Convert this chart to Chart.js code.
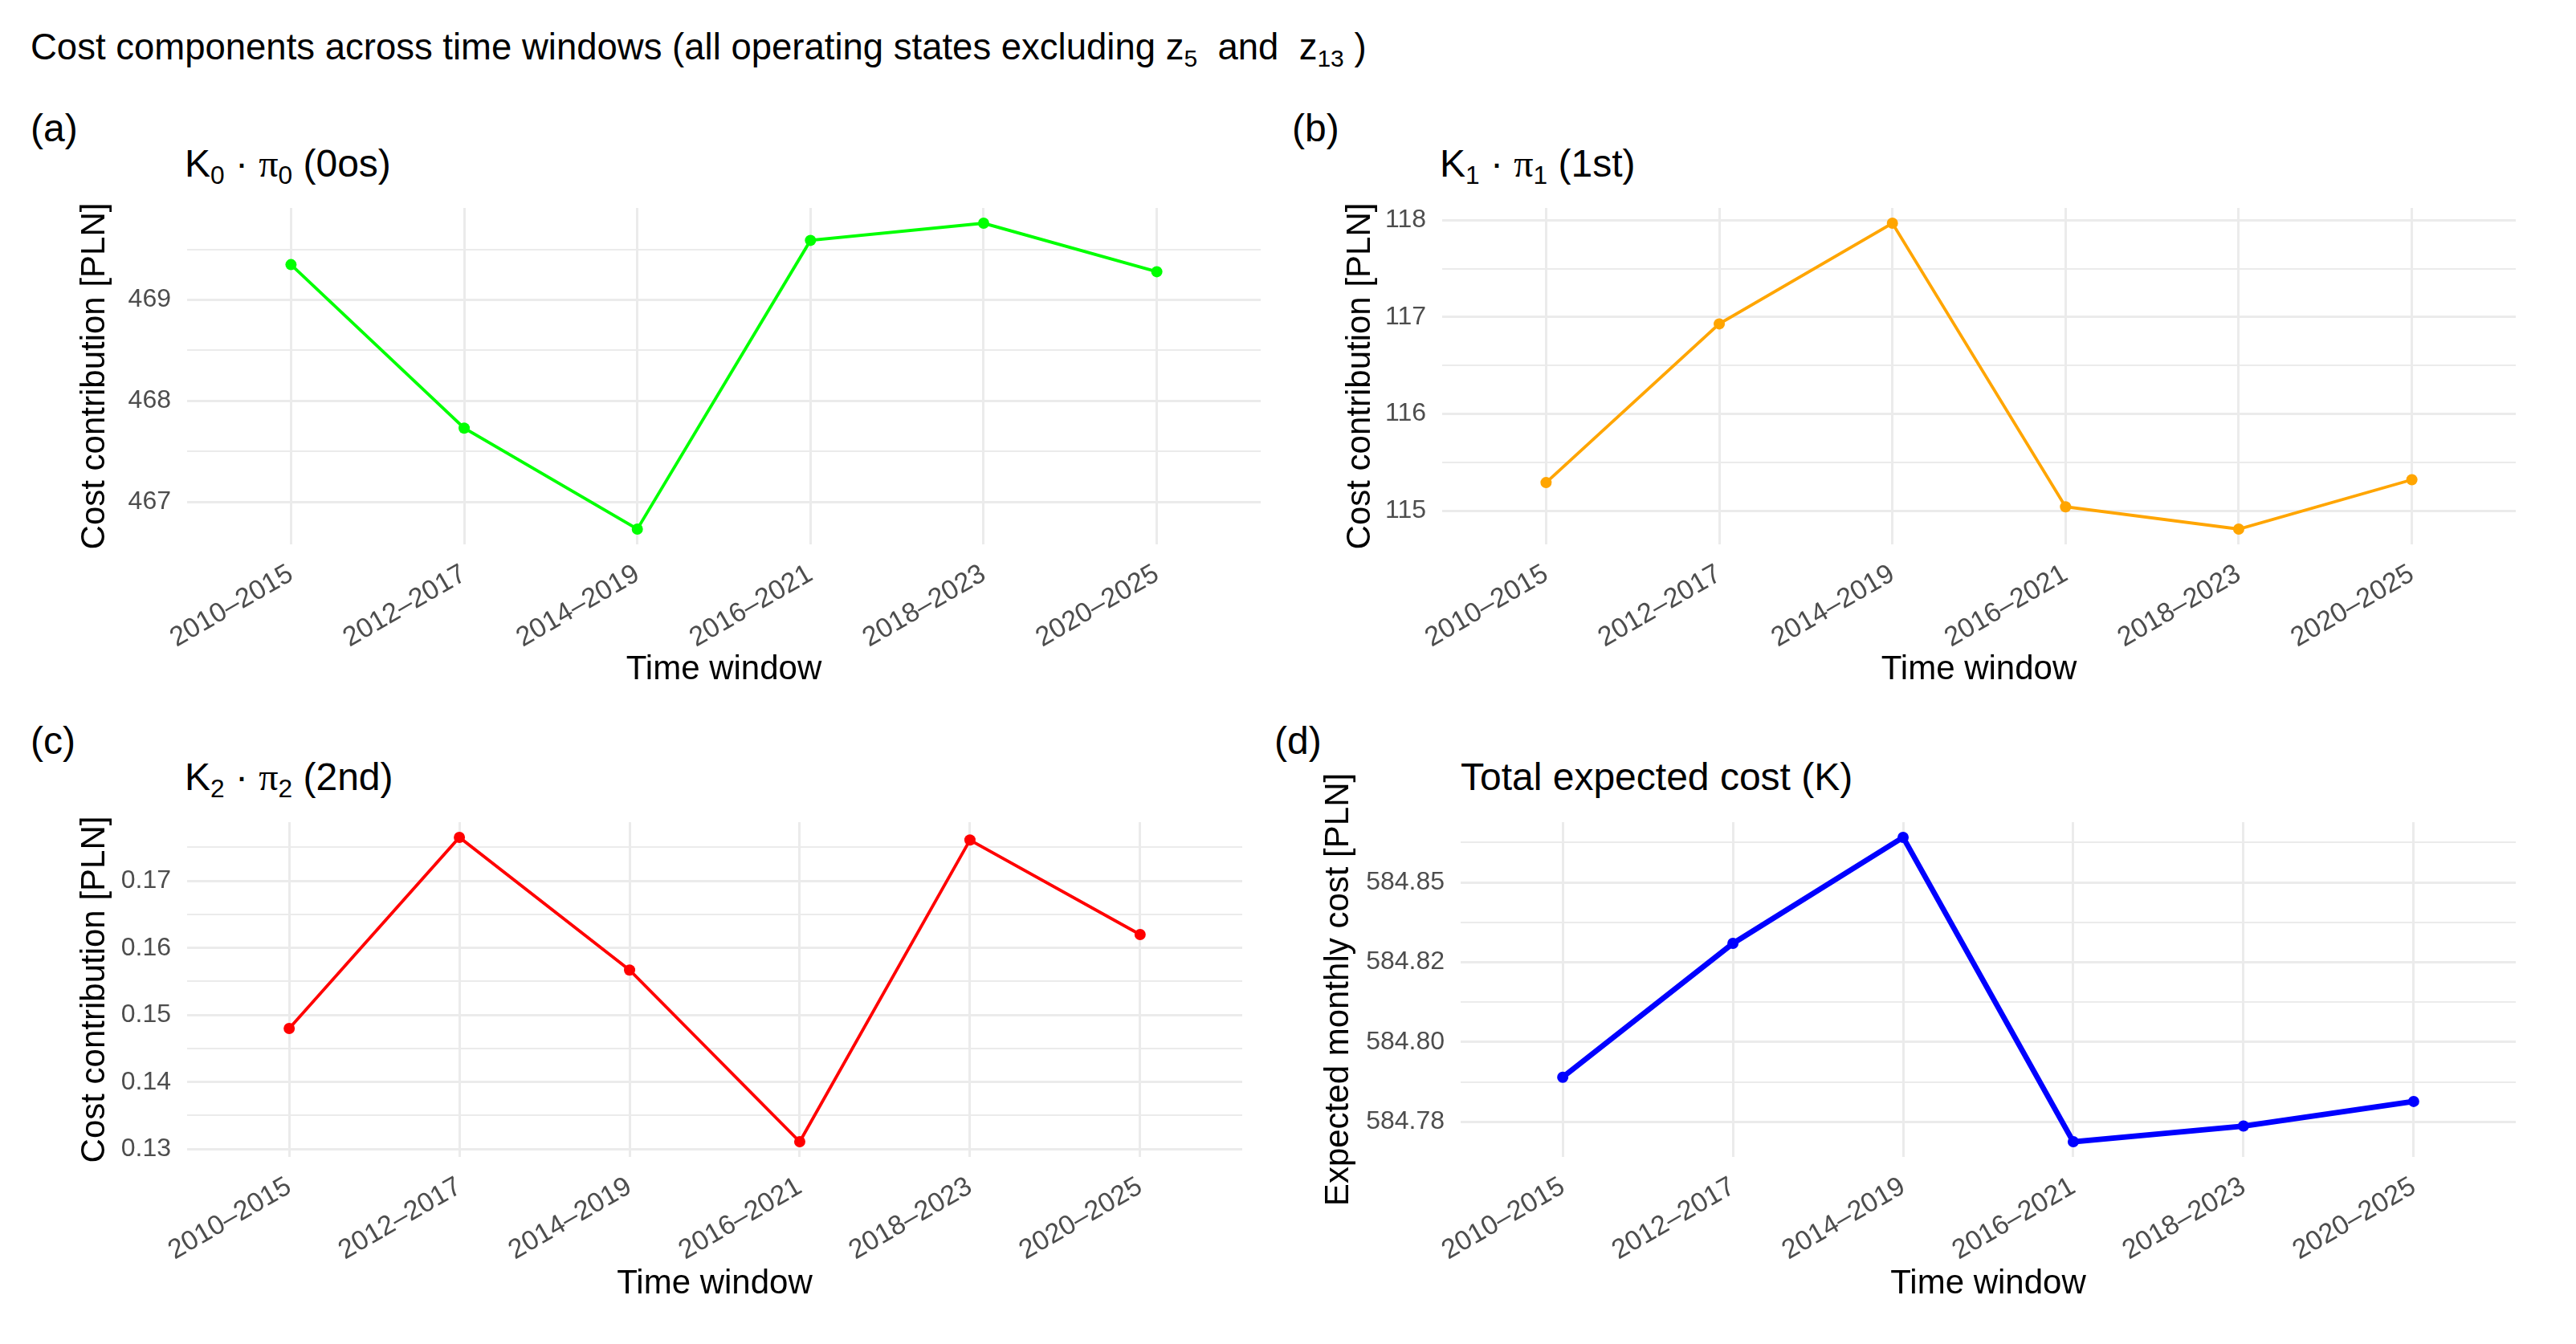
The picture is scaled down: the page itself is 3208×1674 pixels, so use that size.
<!DOCTYPE html>
<html>
<head>
<meta charset="utf-8">
<script src="https://cdn.jsdelivr.net/npm/chart.js@4.4.1/dist/chart.umd.min.js"></script>
<style>
html,body{margin:0;padding:0;background:#fff;}
body{width:3208px;height:1674px;position:relative;overflow:hidden;font-family:'Liberation Sans',Arial,sans-serif;color:#000;}
.txt{position:absolute;white-space:pre;line-height:1;}
.sub{font-size:0.66em;vertical-align:-9px;}
.pi{font-family:'Liberation Serif','DejaVu Serif',serif;}
canvas{position:absolute;}
</style>
</head>
<body>
<div class="txt" style="left:38px;top:36px;font-size:45.5px">Cost components across time windows (all operating states excluding z<span class="sub">5</span>  and  z<span class="sub">13</span> )</div>

<div class="txt" style="left:38px;top:136px;font-size:48px">(a)</div>
<div class="txt" style="left:1609px;top:136px;font-size:48px">(b)</div>
<div class="txt" style="left:38px;top:899px;font-size:48px">(c)</div>
<div class="txt" style="left:1587px;top:899px;font-size:48px">(d)</div>

<div class="txt" style="left:230px;top:180px;font-size:48px">K<span class="sub">0</span> · <span class="pi">π</span><span class="sub">0</span> (0os)</div>
<div class="txt" style="left:1793px;top:180px;font-size:48px">K<span class="sub">1</span> · <span class="pi">π</span><span class="sub">1</span> (1st)</div>
<div class="txt" style="left:230px;top:944px;font-size:48px">K<span class="sub">2</span> · <span class="pi">π</span><span class="sub">2</span> (2nd)</div>
<div class="txt" style="left:1819px;top:944px;font-size:48px">Total expected cost (K)</div>

<canvas id="cA"></canvas>
<canvas id="cB"></canvas>
<canvas id="cC"></canvas>
<canvas id="cD"></canvas>

<script>
// ---- data ----
const categories = ['2010–2015', '2012–2017', '2014–2019', '2016–2021', '2018–2023', '2020–2025'];

const valuesA = [469.35, 467.73, 466.73, 469.59, 469.76, 469.28];   // K0·π0 (0os)
const valuesB = [115.29, 116.93, 117.97, 115.04, 114.81, 115.32];   // K1·π1 (1st)
const valuesC = [0.1480, 0.1765, 0.1567, 0.1311, 0.1761, 0.1620];   // K2·π2 (2nd)
const valuesD = [584.7890, 584.8309, 584.8641, 584.7688, 584.7737, 584.7814]; // total K

const ticksA = [467, 468, 469];
const tickLabelsA = ['467', '468', '469'];
const ticksB = [115, 116, 117, 118];
const tickLabelsB = ['115', '116', '117', '118'];
const ticksC = [0.13, 0.14, 0.15, 0.16, 0.17];
const tickLabelsC = ['0.13', '0.14', '0.15', '0.16', '0.17'];
const ticksD = [584.775, 584.800, 584.825, 584.850];
const tickLabelsD = ['584.78', '584.80', '584.82', '584.85'];

const xTitle = 'Time window';
const yTitleComp = 'Cost contribution [PLN]';
const yTitleTotal = 'Expected monthly cost [PLN]';

// ---- layout (pixels) ----
const FONT = "'Liberation Sans', Arial, sans-serif";
const geomA = {canvas:{l:60,   t:159, w:1530, h:721}, area:{l:233,  t:259,  r:1570, b:678},  yTitleX:118,  xTitleY:834};
const geomB = {canvas:{l:1620, t:159, w:1560, h:721}, area:{l:1796, t:259,  r:3133, b:678},  yTitleX:1694, xTitleY:834};
const geomC = {canvas:{l:60,   t:924, w:1530, h:721}, area:{l:233,  t:1024, r:1547, b:1441}, yTitleX:118,  xTitleY:1599};
const geomD = {canvas:{l:1620, t:924, w:1560, h:721}, area:{l:1819, t:1024, r:3133, b:1441}, yTitleX:1667, xTitleY:1599};

function buildPanel(id, geom, values, color, lineW, majors, majorLabels, yTitle) {
  const cv = document.getElementById(id);
  const c = geom.canvas, a = geom.area;
  cv.width = c.w; cv.height = c.h;
  cv.style.left = c.l + 'px'; cv.style.top = c.t + 'px';
  cv.style.width = c.w + 'px'; cv.style.height = c.h + 'px';
  const lo = Math.min(...values), hi = Math.max(...values), span = hi - lo;
  const yMin = lo - 0.05 * span, yMax = hi + 0.05 * span;
  const step = majors[1] - majors[0];
  const allTicks = majors.map(v => ({value: v, minor: false}));
  [majors[0] - step / 2, ...majors.map(v => v + step / 2)].forEach(v => {
    if (v > yMin && v < yMax) allTicks.push({value: v, minor: true});
  });
  allTicks.sort((p, q) => p.value - q.value);
  const titleLH = 42 * 1.2;
  new Chart(cv, {
    type: 'line',
    data: {
      datasets: [{
        data: values.map((v, i) => ({x: i, y: v})),
        borderColor: color, backgroundColor: color,
        pointBackgroundColor: color, pointBorderColor: color,
        borderWidth: lineW, pointRadius: 7, pointBorderWidth: 0,
        tension: 0, clip: false
      }]
    },
    options: {
      responsive: false, animation: false, devicePixelRatio: 1,
      events: [],
      layout: {padding: {left: 0, top: a.t - c.t, right: c.l + c.w - a.r, bottom: 0}},
      plugins: {legend: {display: false}, tooltip: {enabled: false}},
      scales: {
        x: {
          type: 'linear', min: -0.6, max: categories.length - 1 + 0.6,
          afterBuildTicks: s => { s.ticks = categories.map((_, i) => ({value: i})); },
          afterFit: s => { s.height = c.t + c.h - a.b; },
          ticks: {
            autoSkip: false, maxRotation: 30, minRotation: 30, padding: 17,
            color: '#4D4D4D', font: {family: FONT, size: 34},
            callback: v => categories[v]
          },
          grid: {color: '#EBEBEB', lineWidth: 3, drawTicks: false},
          border: {display: false},
          title: {
            display: true, text: xTitle, color: '#000',
            font: {family: FONT, size: 42},
            padding: {top: 0, bottom: c.t + c.h - geom.xTitleY - titleLH / 2}
          }
        },
        y: {
          type: 'linear', min: yMin, max: yMax,
          afterBuildTicks: s => { s.ticks = allTicks.map(t => ({value: t.value, minor: t.minor})); },
          afterFit: s => { s.width = a.l - c.l; },
          ticks: {
            padding: 20, color: '#4D4D4D', font: {family: FONT, size: 32},
            callback: (v, i, ts) => {
              if (ts[i] && ts[i].minor) return '';
              const k = majors.findIndex(m => Math.abs(m - v) < step * 1e-3);
              return k >= 0 ? majorLabels[k] : '';
            }
          },
          grid: {
            color: '#EBEBEB', drawTicks: false,
            lineWidth: ctx => (ctx.tick && ctx.tick.minor) ? 2 : 3
          },
          border: {display: false},
          title: {
            display: true, text: yTitle, color: '#000',
            font: {family: FONT, size: 42},
            padding: {top: geom.yTitleX - c.l - titleLH / 2, bottom: 0}
          }
        }
      }
    }
  });
}

buildPanel('cA', geomA, valuesA, '#00FF00', 3.8, ticksA, tickLabelsA, yTitleComp);
buildPanel('cB', geomB, valuesB, '#FFA500', 3.8, ticksB, tickLabelsB, yTitleComp);
buildPanel('cC', geomC, valuesC, '#FF0000', 3.8, ticksC, tickLabelsC, yTitleComp);
buildPanel('cD', geomD, valuesD, '#0000FF', 6.8, ticksD, tickLabelsD, yTitleTotal);
</script>
</body>
</html>
